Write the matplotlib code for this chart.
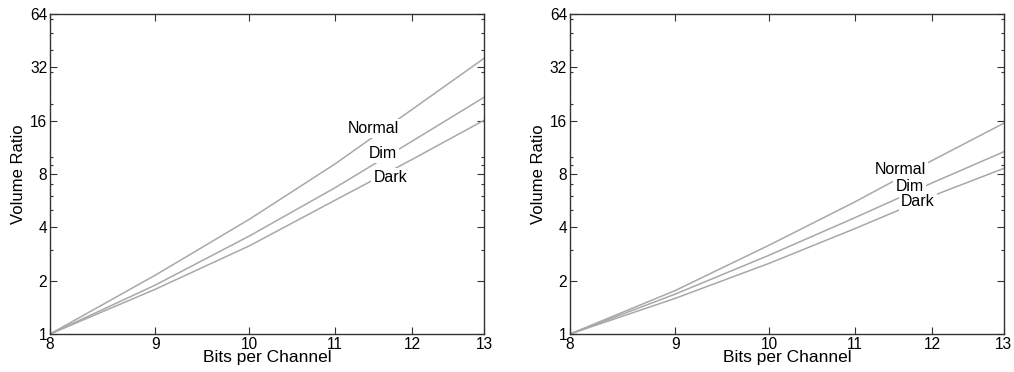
import matplotlib
matplotlib.use("Agg")
import matplotlib.pyplot as plt
from matplotlib.ticker import FixedLocator, NullFormatter, NullLocator, LogLocator

plt.rcParams["font.family"] = ["Liberation Sans", "DejaVu Sans"]

bits = [8, 9, 10, 11, 12, 13]
labels = ["Normal", "Dim", "Dark"]

# left panel
left_normal = [1, 2.15, 4.45, 9.1, 18.6, 36.0]
left_dim = [1, 1.89, 3.58, 6.68, 12.3, 21.7]
left_dark = [1, 1.79, 3.15, 5.68, 9.7, 16.1]
left_label_pos = [(11.49, 14.5), (11.61, 10.5), (11.71, 7.67)]

# right panel
right_normal = [1, 1.76, 3.18, 5.56, 9.56, 15.5]
right_dim = [1, 1.68, 2.79, 4.53, 7.14, 10.7]
right_dark = [1, 1.59, 2.51, 3.93, 6.02, 8.62]
right_label_pos = [(11.58, 8.54), (11.70, 6.85), (11.81, 5.58)]

y_ticks = [1, 2, 4, 8, 16, 32, 64]


def draw_panel(ax, series, label_pos):
    for values in series:
        ax.plot(bits, values, color="#a8a8a8", lw=1.1)
    for name, (x, y) in zip(labels, label_pos):
        ax.text(x, y, name, ha="center", va="center", fontsize=11.4,
                bbox=dict(facecolor="white", edgecolor="none", pad=1.6))
    ax.set_xscale("log")
    ax.set_yscale("log")
    ax.set_xlim(8, 13)
    ax.set_ylim(1, 64)
    ax.xaxis.set_major_locator(FixedLocator(bits))
    ax.xaxis.set_major_formatter(plt.FixedFormatter([str(b) for b in bits]))
    ax.xaxis.set_minor_locator(NullLocator())
    ax.yaxis.set_major_locator(FixedLocator(y_ticks))
    ax.yaxis.set_major_formatter(plt.FixedFormatter([str(t) for t in y_ticks]))
    ax.yaxis.set_minor_locator(LogLocator(base=10, subs=range(1, 10)))
    ax.yaxis.set_minor_formatter(NullFormatter())
    ax.tick_params(which="both", direction="in", top=True, right=True,
                   labelsize=11.2, width=0.8, color="#333333")
    ax.tick_params(which="major", length=5, pad=2)
    ax.tick_params(which="minor", length=2.5)
    for s in ax.spines.values():
        s.set_linewidth(1.0)
        s.set_color("#333333")
    ax.set_xlabel("Bits per Channel", fontsize=12.5, labelpad=-1)
    ax.set_ylabel("Volume Ratio", fontsize=12, labelpad=3)


fig = plt.figure(figsize=(10.14, 3.72), dpi=100)
ax1 = fig.add_axes([0.0493, 0.102, 0.428, 0.860])
ax2 = fig.add_axes([0.562, 0.102, 0.428, 0.860])

draw_panel(ax1, [left_normal, left_dim, left_dark], left_label_pos)
draw_panel(ax2, [right_normal, right_dim, right_dark], right_label_pos)

fig.savefig("out.png", dpi=100)
